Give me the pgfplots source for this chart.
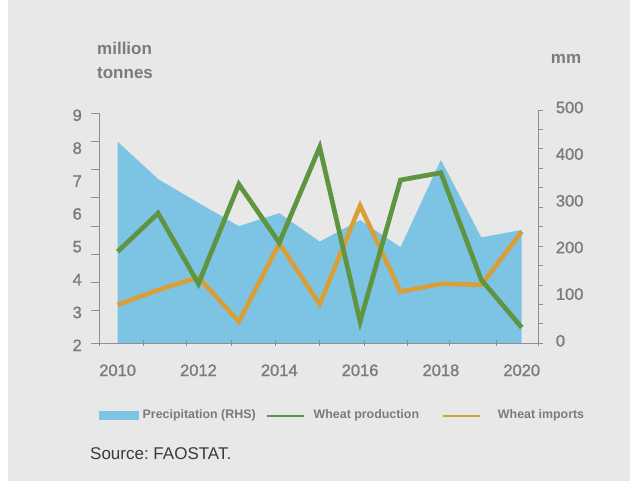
\documentclass[border=0pt]{standalone}
\usepackage{fontspec}
\setmainfont{Liberation Sans}
\newfontfamily\tickfont[FakeBold=1.2]{Liberation Sans}
\usepackage{pgfplots}
\usepackage{pgfplotstable}
\pgfplotsset{compat=1.18}
\definecolor{bg}{HTML}{E7E8E7}
\definecolor{rain}{HTML}{7DC4E4}
\definecolor{prod}{HTML}{5F9441}
\definecolor{imp}{HTML}{D99E36}
\definecolor{txt}{HTML}{7A7B7D}
\definecolor{axc}{HTML}{8E8F91}
\definecolor{src}{HTML}{3A3A3A}

\pgfplotstableread{
year rain prod imp
2010 432 4.79 3.17
2011 352 5.96 3.62
2012 301 3.81 4.01
2013 251 6.84 2.66
2014 279 5.06 5.04
2015 218 7.97 3.19
2016 264 2.66 6.19
2017 206 6.97 3.57
2018 393 7.19 3.81
2019 227 3.93 3.78
2020 243 2.48 5.40
}\data

\begin{document}
\begin{tikzpicture}
\path[use as bounding box] (0pt,0pt) rectangle (630pt,481pt);
\fill[white] (0pt,0pt) rectangle (630pt,481pt);
\fill[bg] (8pt,0pt) rectangle (630pt,481pt);

% right axis: precipitation area
\begin{axis}[
  at={(99.3pt,137.7pt)}, anchor=south west,
  scale only axis, width=439pt, height=233.3pt,
  xmin=2009.546, xmax=2020.41, ymin=0, ymax=500,
  axis y line*=right, axis x line=none,
  y axis line style={axc, line width=0.9pt},
  ytick={0,100,...,500}, major tick length=0pt,
  minor ytick={0,41.667,83.333,125,166.667,208.333,250,291.667,333.333,375,416.667,458.333,500},
  minor tick length=5pt, tick align=outside,
  every minor tick/.style={axc, line width=0.9pt},
  /pgf/number format/assume math mode=true,
  yticklabel style={font=\tickfont\fontsize{16.5}{18}\selectfont, color=txt, anchor=west, inner sep=0pt, xshift=17.4pt, yshift=2.5pt},
  clip=false,
]
\addplot[fill=rain, draw=none] table[x=year, y=rain] {\data} \closedcycle;
\end{axis}

% left axis: lines
\begin{axis}[
  at={(99.3pt,137.7pt)}, anchor=south west,
  scale only axis, width=439pt, height=230pt,
  xmin=2009.546, xmax=2020.41, ymin=2, ymax=9,
  axis y line*=left, axis x line*=bottom,
  axis line style={axc, line width=0.9pt},
  ytick={2,...,9}, xtick={2010,2012,...,2020},
  major tick length=0pt,
  minor ytick={2,2.99,3.85,4.71,5.57,6.43,7.29,8.14,9},
  minor xtick={2009.546,2010.635,2011.708,2012.813,2013.894,2014.99,2016.096,2017.168,2018.208,2019.38,2020.41},
  xtick style={/pgfplots/tick align=center},
  ytick style={/pgfplots/tick align=outside},
  minor x tick style={/pgfplots/minor tick length=6pt},
  minor y tick style={/pgfplots/minor tick length=8pt},
  every minor tick/.style={axc, line width=0.9pt},
  /pgf/number format/assume math mode=true,
  /pgf/number format/1000 sep={},
  yticklabel style={font=\tickfont\fontsize{16.5}{18}\selectfont, color=txt, anchor=east, inner sep=0pt, xshift=-17.3pt, yshift=-2pt},
  xticklabel style={font=\tickfont\fontsize{16.5}{18}\selectfont, color=txt, anchor=north, inner sep=0pt, yshift=-21pt},
  clip=false,
  legend columns=3,
  legend style={at={(0,-0.3117)}, anchor=west, draw=none, fill=none,
    inner sep=0pt, outer sep=0pt, column sep=0pt, row sep=0pt,
    nodes={inner sep=0pt, outer sep=0pt, text=txt, font=\bfseries\fontsize{12.4}{14}\selectfont}},
  legend cell align=left,
]
\addlegendimage{legend image code/.code={\fill[rain] (0pt,-4.2pt) rectangle (38.7pt,4.2pt);}}
\addlegendentry{\makebox[127.3pt][l]{\hspace{4.3pt}Precipitation (RHS)}}
\addlegendimage{legend image code/.code={\draw[prod, line width=2pt] (0pt,-1pt) -- (37pt,-1pt);}}
\addlegendentry{\makebox[137pt][l]{\hspace{9pt}Wheat production}}
\addlegendimage{legend image code/.code={\draw[imp, line width=2pt] (0pt,-1pt) -- (37.3pt,-1pt);}}
\addlegendentry{\makebox[104pt][l]{\hspace{17pt}Wheat imports}}
\addplot[imp, line width=4.5pt, forget plot] table[x=year, y=imp] {\data};
\addplot[prod, line width=4.7pt, forget plot] table[x=year, y=prod] {\data};
\end{axis}

\node[anchor=base west, inner sep=0pt, text=txt, font=\bfseries\fontsize{17}{20}\selectfont] at (97pt,426pt) {million};
\node[anchor=base west, inner sep=0pt, text=txt, font=\bfseries\fontsize{17}{20}\selectfont] at (97pt,402.7pt) {tonnes};
\node[anchor=base west, inner sep=0pt, text=txt, font=\bfseries\fontsize{17}{20}\selectfont] at (550.7pt,417pt) {mm};
\node[anchor=base west, inner sep=0pt, text=src, font=\fontsize{17}{20}\selectfont] at (90pt,21pt) {Source:\ FAOSTAT.};
\end{tikzpicture}
\end{document}
